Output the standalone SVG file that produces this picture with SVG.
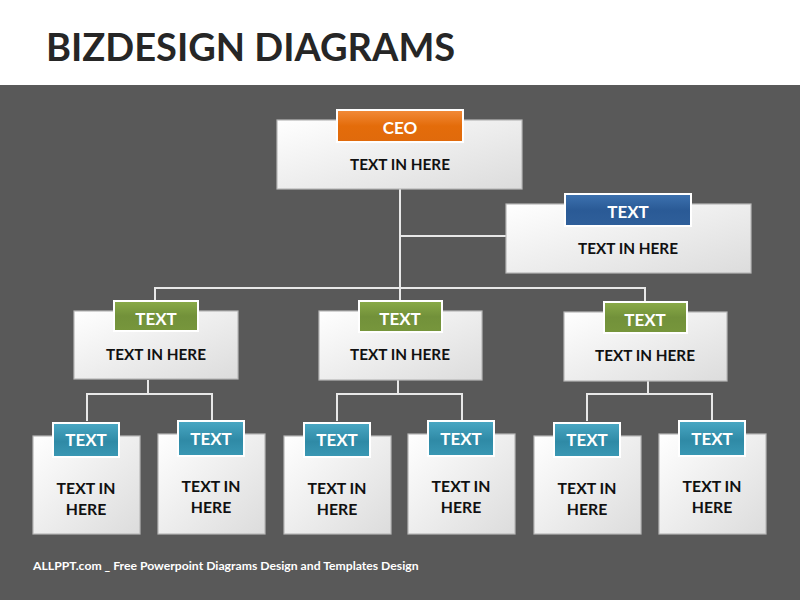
<svg xmlns="http://www.w3.org/2000/svg" width="800" height="600" viewBox="0 0 800 600">
<defs>
<linearGradient id="gBox" x1="0" y1="0" x2="1" y2="1">
<stop offset="0" stop-color="#ffffff"/>
<stop offset="1" stop-color="#dcdcdc"/>
</linearGradient>
<linearGradient id="gOrange" x1="0" y1="0" x2="0" y2="1">
<stop offset="0" stop-color="#f28b3a"/>
<stop offset="0.5" stop-color="#e46c0a"/>
<stop offset="1" stop-color="#e06a0c"/>
</linearGradient>
<linearGradient id="gBlue" x1="0" y1="0" x2="0" y2="1">
<stop offset="0" stop-color="#3d72b0"/>
<stop offset="0.5" stop-color="#2a5a96"/>
<stop offset="1" stop-color="#2f5f9a"/>
</linearGradient>
<linearGradient id="gGreen" x1="0" y1="0" x2="0" y2="1">
<stop offset="0" stop-color="#8aab48"/>
<stop offset="0.5" stop-color="#72913a"/>
<stop offset="1" stop-color="#77963c"/>
</linearGradient>
<linearGradient id="gTeal" x1="0" y1="0" x2="0" y2="1">
<stop offset="0" stop-color="#4aa8c4"/>
<stop offset="0.55" stop-color="#2f8aa6"/>
<stop offset="1" stop-color="#3a98b4"/>
</linearGradient>
</defs>
<style>
.box{fill:url(#gBox);stroke:#b8b8b8;stroke-width:1.2}
.lab{stroke:#ffffff;stroke-width:2}
.lt{font-family:Lato,"Liberation Sans",sans-serif;font-weight:bold;font-size:17px;fill:#ffffff;text-anchor:middle}
.bt{font-family:Lato,"Liberation Sans",sans-serif;font-weight:bold;font-size:15.3px;fill:#111111;text-anchor:middle}
.ct{font-family:Lato,"Liberation Sans",sans-serif;font-weight:bold;font-size:15.8px;fill:#111111;text-anchor:middle}
.con{fill:none;stroke:#e8e8e8;stroke-width:2}
</style>
<rect x="0" y="0" width="800" height="600" fill="#595959"/>
<rect x="0" y="0" width="800" height="85" fill="#ffffff"/>
<text x="46" y="61" font-family="Lato,'Liberation Sans',sans-serif" font-weight="bold" font-size="38" fill="#262626">BIZDESIGN DIAGRAMS</text>
<text x="33" y="570" font-family="Lato,'Liberation Sans',sans-serif" font-weight="bold" font-size="12.2" fill="#ffffff">ALLPPT.com _ Free Powerpoint Diagrams Design and Templates Design</text>

<g id="connectors">
<path class="con" d="M400 189 V288 M400 236 H506 M155 301 V288 H645 V301 M400 288 V301"/>
<path class="con" d="M148 380 V394 M87 421 V394 H212 V421"/>
<path class="con" d="M398 380 V394 M337 421 V394 H462 V421"/>
<path class="con" d="M648 381 V394 M587 421 V394 H712 V421"/>
</g>

<g id="ceo">
<rect class="box" x="277" y="120" width="245" height="69"/>
<rect class="lab" x="337" y="110" width="126" height="32" fill="url(#gOrange)"/>
<text class="lt" x="400" y="134">CEO</text>
<text class="bt" x="400" y="170">TEXT IN HERE</text>
</g>

<g id="assistant">
<rect class="box" x="506" y="204" width="245" height="69"/>
<rect class="lab" x="565" y="194" width="126" height="32" fill="url(#gBlue)"/>
<text class="lt" x="628" y="218">TEXT</text>
<text class="bt" x="628" y="254">TEXT IN HERE</text>
</g>

<g id="mgr1">
<rect class="box" x="74" y="311" width="164" height="68"/>
<rect class="lab" x="114" y="301" width="84" height="30" fill="url(#gGreen)"/>
<text class="lt" x="156" y="325">TEXT</text>
<text class="bt" x="156" y="360">TEXT IN HERE</text>
</g>
<g id="mgr2">
<rect class="box" x="319" y="311" width="163" height="69"/>
<rect class="lab" x="359" y="301" width="83" height="31" fill="url(#gGreen)"/>
<text class="lt" x="400" y="325">TEXT</text>
<text class="bt" x="400" y="360">TEXT IN HERE</text>
</g>
<g id="mgr3">
<rect class="box" x="564" y="312" width="163" height="69"/>
<rect class="lab" x="604" y="302" width="83" height="31" fill="url(#gGreen)"/>
<text class="lt" x="645" y="326">TEXT</text>
<text class="bt" x="645" y="361">TEXT IN HERE</text>
</g>

<g id="staff1a">
<rect class="box" x="33" y="436" width="107" height="98"/>
<rect class="lab" x="53" y="423" width="66" height="34" fill="url(#gTeal)"/>
<text class="lt" x="86" y="446">TEXT</text>
<text class="ct" x="86" y="494">TEXT IN</text>
<text class="ct" x="86" y="515">HERE</text>
</g>
<g id="staff1b">
<rect class="box" x="158" y="434" width="107" height="100"/>
<rect class="lab" x="178" y="421" width="66" height="35" fill="url(#gTeal)"/>
<text class="lt" x="211" y="445">TEXT</text>
<text class="ct" x="211" y="492">TEXT IN</text>
<text class="ct" x="211" y="513">HERE</text>
</g>
<g id="staff2a">
<rect class="box" x="284" y="436" width="107" height="98"/>
<rect class="lab" x="304" y="423" width="66" height="34" fill="url(#gTeal)"/>
<text class="lt" x="337" y="446">TEXT</text>
<text class="ct" x="337" y="494">TEXT IN</text>
<text class="ct" x="337" y="515">HERE</text>
</g>
<g id="staff2b">
<rect class="box" x="408" y="434" width="107" height="100"/>
<rect class="lab" x="428" y="421" width="66" height="35" fill="url(#gTeal)"/>
<text class="lt" x="461" y="445">TEXT</text>
<text class="ct" x="461" y="492">TEXT IN</text>
<text class="ct" x="461" y="513">HERE</text>
</g>
<g id="staff3a">
<rect class="box" x="534" y="436" width="107" height="98"/>
<rect class="lab" x="554" y="423" width="66" height="34" fill="url(#gTeal)"/>
<text class="lt" x="587" y="446">TEXT</text>
<text class="ct" x="587" y="494">TEXT IN</text>
<text class="ct" x="587" y="515">HERE</text>
</g>
<g id="staff3b">
<rect class="box" x="659" y="434" width="107" height="100"/>
<rect class="lab" x="679" y="421" width="66" height="35" fill="url(#gTeal)"/>
<text class="lt" x="712" y="445">TEXT</text>
<text class="ct" x="712" y="492">TEXT IN</text>
<text class="ct" x="712" y="513">HERE</text>
</g>
</svg>
